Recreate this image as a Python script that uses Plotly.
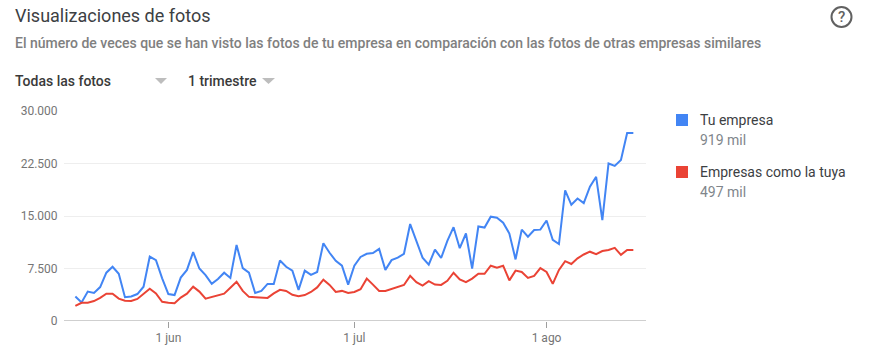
import pandas as pd
import plotly.graph_objects as go

START_DATE = "2019-05-17"
tu_empresa = [3500, 2650, 4200, 4000, 4850, 6900, 7750, 6750, 3400, 3500, 3850, 4900, 9200, 8700, 6100, 3850,
              3700, 6200, 7300, 9850, 7500, 6550, 5300, 6000, 6900, 6150, 10850, 7550, 6900, 4000, 4300, 5300,
              5300, 8650, 7750, 7200, 4450, 7200, 6600, 7000, 11100, 9750, 8600, 7900, 5200, 7900, 9150, 9600,
              9700, 10300, 7300, 8700, 9050, 9600, 13850, 11450, 9050, 8050, 10200, 9000, 11450, 13400, 10400,
              12500, 7500, 13500, 13350, 14900, 14750, 14050, 12500, 8800, 13050, 12050, 13000, 13050, 14350,
              11600, 11000, 18650, 16600, 17500, 16850, 19200, 20600, 14400, 22500, 22150, 23000, 26850, 26850]
empresas_como = [2150, 2600, 2600, 2850, 3300, 3900, 3900, 3200, 2900, 2850, 3150, 3900, 4600, 3950, 2750, 2600,
                 2550, 3350, 3900, 4900, 4200, 3200, 3450, 3700, 3900, 4750, 5600, 4300, 3450, 3400, 3300, 3300,
                 3950, 4450, 4300, 3750, 3550, 3700, 4150, 4800, 5900, 5150, 4150, 4300, 4000, 4150, 4550, 6050,
                 5200, 4300, 4300, 4600, 4900, 5150, 6450, 5550, 5050, 5700, 5200, 5150, 5750, 6900, 5950, 5550,
                 6050, 6750, 6750, 7900, 7600, 7900, 5800, 7200, 7000, 6150, 6450, 7550, 7000, 5300, 7300, 8550,
                 8150, 8950, 9500, 9900, 9550, 10000, 10150, 10450, 9450, 10150, 10150]
y_ticks = [0, 7500, 15000, 22500, 30000]
y_labels = ["0", "7.500", "15.000", "22.500", "30.000"]
x_ticks = ["2019-06-01", "2019-07-01", "2019-08-01"]
x_labels = ["1 jun", "1 jul", "1 ago"]
BLUE, RED = "#4285f4", "#ea4335"
FONT = "Roboto"

dates = pd.date_range(START_DATE, periods=len(tu_empresa), freq="D")

W, H = 877, 362
L, R, T, B = 64, 646, 111, 321
px = lambda x: (x - L) / (R - L)
py = lambda y: (B - y) / (B - T)

fig = go.Figure()
fig.add_trace(go.Scatter(x=dates, y=tu_empresa, mode="lines", line=dict(color=BLUE, width=2), name="Tu empresa"))
fig.add_trace(go.Scatter(x=dates, y=empresas_como, mode="lines", line=dict(color=RED, width=2), name="Empresas como la tuya"))


def text(x, y, s, size, color, weight=400, anchor="left"):
    fig.add_annotation(xref="paper", yref="paper", x=px(x), y=py(y), text=s, showarrow=False,
                       xanchor=anchor, yanchor="middle", align="left",
                       font=dict(family=FONT, size=size, color=color, weight=weight),
                       borderpad=0)


def tri(x0, x1, y0, y1):
    xm = (x0 + x1) / 2
    fig.add_shape(type="path", xref="paper", yref="paper", line_width=0, fillcolor="#bdbdbd",
                  path=f"M {px(x0)} {py(y0)} L {px(x1)} {py(y0)} L {px(xm)} {py(y1)} Z")


text(14, 15, "Visualizaciones de fotos", 18, "#3c4043")
text(14, 43, "El número de veces que se han visto las fotos de tu empresa en comparación con las fotos de otras empresas similares", 14, "#808080", 500)
text(14, 81, "Todas las fotos", 14, "#3a3a3a", 500)
text(187, 81, "1 trimestre", 14, "#3a3a3a", 500)
tri(155, 167, 78, 84)
tri(262, 275, 78, 84)

fig.add_shape(type="circle", xref="paper", yref="paper", x0=px(831.5), x1=px(851.5), y0=py(27), y1=py(7),
              line=dict(color="#616161", width=2))
text(841.5, 17, "?", 15, "#616161", 500, "center")

fig.add_shape(type="rect", xref="paper", yref="paper", x0=px(676), x1=px(688), y0=py(126), y1=py(114), line_width=0, fillcolor=BLUE)
fig.add_shape(type="rect", xref="paper", yref="paper", x0=px(676), x1=px(688), y0=py(178), y1=py(166), line_width=0, fillcolor=RED)
text(699, 120, "Tu empresa", 14, "#3c4043")
text(699, 140, "919 mil", 14, "#80868b")
text(699, 172, "Empresas como la tuya", 14, "#3c4043")
text(699, 192, "497 mil", 14, "#80868b")

fig.update_layout(
    width=W, height=H, autosize=False, showlegend=False,
    margin=dict(l=L, r=W - R, t=T, b=H - B, pad=0),
    paper_bgcolor="white", plot_bgcolor="white",
    font=dict(family=FONT, size=12, color="#757575"),
    xaxis=dict(range=["2019-05-15 04:00", "2019-08-17 01:00"], tickvals=x_ticks, ticktext=x_labels,
               showgrid=False, zeroline=False, ticks="outside", ticklen=6, tickcolor="#9e9e9e",
               tickfont=dict(size=12, color="#757575")),
    yaxis=dict(range=[0, 30000], tickvals=y_ticks, ticktext=y_labels, showgrid=True, gridcolor="#eeeeee",
               gridwidth=1, zeroline=False, showline=False, ticks="outside", ticklen=3, tickcolor="rgba(0,0,0,0)",
               tickfont=dict(size=12, color="#757575")),
)
fig.add_shape(type="line", xref="paper", yref="y", x0=0, x1=1, y0=0, y1=0, line=dict(color="#9e9e9e", width=1), layer="below")
fig.write_html("out.html", config={"displayModeBar": False},
               post_script="document.body.style.margin='0';document.documentElement.style.overflow='hidden';")
